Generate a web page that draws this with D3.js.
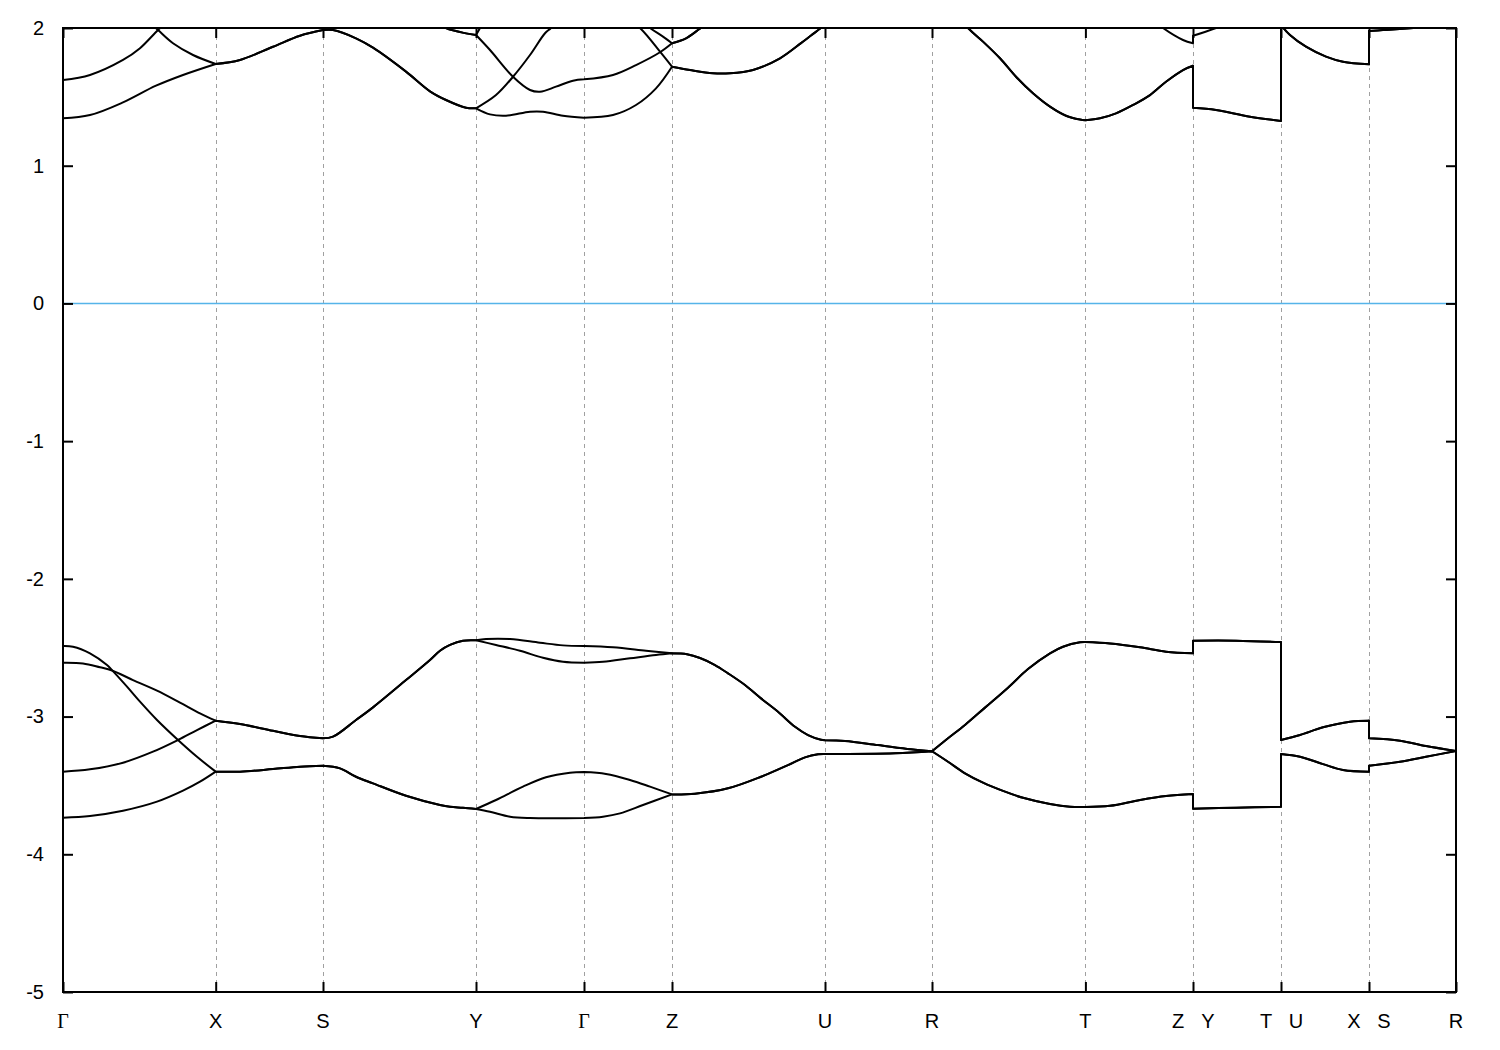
<!DOCTYPE html>
<html>
<head>
<meta charset="utf-8">
<script src="https://cdn.jsdelivr.net/npm/d3@7"></script>
<style>body{margin:0;background:#fff}</style>
</head>
<body>
<svg id="chart" width="1500" height="1050"></svg>
<script>
// ---- k-path (high-symmetry points) ----
const kTicks  = [0, 152.7, 260, 413, 521, 609, 762, 869, 1022.4, 1130, 1218, 1306, 1393];
const kLabels = ["Γ", "X", "S", "Y", "Γ", "Z", "U", "R", "T", "Z|Y", "T|U", "X|S", "R"];
const eTicks  = [-5, -4, -3, -2, -1, 0, 1, 2];
const eRange  = [-5, 2];
const fermiLevel = 0;

// ---- valence bands: pieces [k, E] ----
const vbGX1 = [[0,-2.609],[20,-2.614],[37,-2.642],[49,-2.665],[70,-2.735],[94,-2.812],[117,-2.899],[137,-2.977],[152.7,-3.030]];
const vbGX2 = [[0,-3.400],[27,-3.383],[60,-3.335],[90,-3.255],[115,-3.170],[134,-3.098],[152.7,-3.030]];
const vbGX3 = [[0,-2.488],[10,-2.493],[27,-2.541],[44,-2.626],[49,-2.663],[64,-2.783],[77,-2.892],[94,-3.025],[115,-3.170],[134,-3.292],[152.7,-3.400]];
const vbGX4 = [[0,-3.734],[27,-3.722],[60,-3.684],[94,-3.618],[120,-3.538],[137,-3.473],[152.7,-3.400]];
const vbUpperXY = [[177,-3.054],[210,-3.103],[237,-3.141],[260,-3.158],[270,-3.146],[293,-3.025],[310,-2.933],[343,-2.735],[367,-2.589],[377,-2.522],[387,-2.480],[400,-2.449],[413,-2.446]];
const vbLowerXY = [[177,-3.400],[210,-3.381],[237,-3.364],[260,-3.357],[277,-3.376],[293,-3.437],[310,-3.485],[343,-3.575],[377,-3.642],[387,-3.655],[400,-3.662],[413,-3.671]];
const vbYZ1 = [[423,-2.437],[447,-2.437],[477,-2.464],[500,-2.483],[521,-2.488],[550,-2.497],[583,-2.522],[609,-2.541]];
const vbYZ2 = [[433,-2.480],[457,-2.522],[480,-2.573],[500,-2.602],[521,-2.609],[540,-2.602],[567,-2.577],[593,-2.553],[609,-2.541]];
const vbYZ3 = [[433,-3.606],[460,-3.509],[483,-3.441],[507,-3.408],[521,-3.403],[543,-3.417],[567,-3.461],[587,-3.509],[609,-3.565]];
const vbYZ4 = [[427,-3.691],[447,-3.727],[467,-3.737],[521,-3.737],[540,-3.727],[557,-3.703],[580,-3.642],[609,-3.565]];
const vbUpperZ = [[624,-2.548],[637,-2.575],[652,-2.626],[665,-2.686],[682,-2.771],[698,-2.868],[715,-2.965],[732,-3.074],[745,-3.134],[758,-3.168],[762,-3.172],
  [782,-3.177],[815,-3.207],[848,-3.238],[869,-3.252],
  [885,-3.158],[902,-3.061],[922,-2.935],[945,-2.790],[965,-2.655],[987,-2.541],[1000,-2.493],[1017,-2.461],[1022.4,-2.459],
  [1047,-2.469],[1077,-2.497],[1103,-2.529],[1130,-2.541],
  [1130,-2.449],[1173,-2.449],[1218,-2.459],
  [1218,-3.170],[1237,-3.134],[1260,-3.078],[1287,-3.037],[1306,-3.030],
  [1306,-3.158],[1337,-3.175],[1363,-3.214],[1393,-3.250]];
const vbLowerZ = [[632,-3.560],[665,-3.521],[698,-3.437],[725,-3.352],[742,-3.296],[755,-3.274],[762,-3.272],
  [832,-3.267],[869,-3.252],
  [885,-3.328],[902,-3.412],[920,-3.480],[940,-3.540],[960,-3.590],[987,-3.635],[1007,-3.655],[1022.4,-3.657],
  [1047,-3.648],[1077,-3.606],[1103,-3.577],[1130,-3.562],
  [1130,-3.669],[1173,-3.662],[1218,-3.655],
  [1218,-3.272],[1237,-3.292],[1260,-3.345],[1280,-3.388],[1306,-3.400],
  [1306,-3.357],[1337,-3.328],[1363,-3.292],[1393,-3.250]];

// ---- conduction bands: pieces [k, E] ----
const cbGX1 = [[0,1.344],[27,1.368],[60,1.460],[93,1.581],[120,1.659],[152.7,1.739]];
const cbGX2 = [[0,1.622],[27,1.659],[60,1.768],[77,1.853],[95,1.985],[105,2.05],[152.7,2.30]];
const cbGX3 = [[0,2.45],[50,2.20],[85,2.05],[95,1.985],[110,1.889],[130,1.804],[152.7,1.739]];
const cbXY = [[177,1.768],[210,1.864],[237,1.944],[260,1.985],[270,1.985],[293,1.925],[310,1.857],[343,1.683],[367,1.540],[383,1.477],[403,1.421],[413,1.417]];
const cbYtop = [[370,2.06],[383,2.0],[403,1.961],[413,1.949]];
const cbYZ1 = [[427,1.373],[443,1.363],[467,1.392],[480,1.392],[500,1.363],[521,1.349],[550,1.368],[573,1.441],[593,1.562],[609,1.719]];
const cbYZ2 = [[427,1.840],[450,1.646],[467,1.550],[477,1.537],[493,1.574],[510,1.617],[521,1.627],[550,1.659],[573,1.731],[597,1.824],[609,1.889]];
const cbYZ3 = [[433,1.513],[450,1.646],[467,1.804],[482,1.962],[488,2.0],[500,2.1],[521,2.2],[550,2.15],[577,2.0],[597,1.828],[609,1.719]];
const cbZup = [[623,1.925],[638,2.0],[660,2.1]];
const cbZend = [[627,1.695],[650,1.671],[667,1.671],[690,1.695],[717,1.780],[738,1.890],[748,1.945],[758,2.0],[762,2.02],
  [815,2.2],[869,2.3],
  [905,2.0],[920,1.901],[937,1.780],[953,1.646],[970,1.526],[987,1.429],[1003,1.363],[1017,1.335],[1022.4,1.330],
  [1037,1.344],[1053,1.380],[1070,1.441],[1087,1.513],[1103,1.610],[1120,1.695],[1130,1.726],
  [1130,1.421],[1153,1.405],[1187,1.356],[1218,1.325],
  [1218,2.02],[1227,1.949],[1243,1.864],[1263,1.792],[1280,1.755],[1306,1.736],
  [1306,1.978],[1320,1.985],[1340,1.995],[1393,2.02]];
const cb2Tail = [[762,2.3],[869,2.5],[1022.4,2.4],[1080,2.12],[1100,2.0],[1120,1.913],[1130,1.889],
  [1130,1.944],[1153,2.0],[1218,2.2],[1306,2.3],[1393,2.3]];
const cb4Head = [[0,2.6],[152.7,2.5],[260,2.6]];
const cb4Mid = [[417,2.0],[425,2.12],[460,2.3],[521,2.4],[570,2.1],[587,2.0],[600,1.937],[609,1.889]];
const cb4Tail = [[762,2.4],[869,2.6],[1022.4,2.7],[1130,2.5],[1218,2.6],[1306,2.6],[1393,2.6]];

const bands = [
  [...vbGX1, ...vbUpperXY, ...vbYZ1, ...vbUpperZ],
  [...vbGX2, ...vbUpperXY, ...vbYZ2, ...vbUpperZ],
  [...vbGX3, ...vbLowerXY, ...vbYZ3, ...vbLowerZ],
  [...vbGX4, ...vbLowerXY, ...vbYZ4, ...vbLowerZ],
  [...cbGX1, ...cbXY, ...cbYZ1, ...cbZend],
  [...cbGX3, ...cbXY, ...cbYZ3, ...cbZend],
  [...cbGX2, [260,2.4],[340,2.3], ...cbYtop, ...cbYZ2, ...cbZup, ...cb2Tail],
  [...cb4Head, ...cbYtop, ...cb4Mid, ...cbZup, ...cb4Tail]
];

// ---- drawing ----
const W = 1500, H = 1050;
const M = {left: 63, right: 1456, top: 28, bottom: 992};
const svg = d3.select("#chart");
svg.append("rect").attr("width", W).attr("height", H).attr("fill", "#fff");

const x = d3.scaleLinear().domain([kTicks[0], kTicks[kTicks.length - 1]]).range([M.left, M.right]);
const y = d3.scaleLinear().domain(eRange).range([M.bottom, M.top]);

svg.append("defs").append("clipPath").attr("id", "plotclip")
  .append("rect").attr("x", M.left).attr("y", M.top)
  .attr("width", M.right - M.left).attr("height", M.bottom - M.top);

// dashed vertical grid at high-symmetry points
svg.append("g").selectAll("line").data(kTicks.slice(1, -1)).join("line")
  .attr("x1", d => Math.round(x(d)) + 0.5).attr("x2", d => Math.round(x(d)) + 0.5)
  .attr("y1", M.top).attr("y2", M.bottom)
  .attr("stroke", "#a0a0a0").attr("stroke-width", 1).attr("stroke-dasharray", "4,4");

// Fermi level
svg.append("line")
  .attr("x1", M.left).attr("x2", M.right)
  .attr("y1", y(fermiLevel)).attr("y2", y(fermiLevel))
  .attr("stroke", "#56b4e9").attr("stroke-width", 1.5);

// bands
const line = d3.line().x(d => x(d[0])).y(d => y(d[1])).curve(d3.curveCatmullRom.alpha(0.5));
const isTick = k => kTicks.some(t => Math.abs(t - k) < 1e-6);
function bandPath(pts) {
  const segs = [];
  let cur = [pts[0]];
  for (let i = 1; i < pts.length; i++) {
    const p = pts[i], prev = pts[i - 1];
    if (Math.abs(p[0] - prev[0]) < 1e-9) { segs.push(cur); cur = [p]; }
    else {
      cur.push(p);
      if (isTick(p[0]) && i < pts.length - 1) { segs.push(cur); cur = [p]; }
    }
  }
  segs.push(cur);
  let d = "";
  segs.forEach((s, i) => {
    let sd;
    if (s.length === 1) sd = "M" + x(s[0][0]) + "," + y(s[0][1]);
    else sd = line(s);
    if (i > 0) sd = "L" + sd.slice(1);
    d += sd;
  });
  return d;
}
svg.append("g").attr("clip-path", "url(#plotclip)")
  .selectAll("path").data(bands).join("path")
  .attr("d", bandPath)
  .attr("fill", "none").attr("stroke", "#000").attr("stroke-width", 2)
  .attr("stroke-linejoin", "round");

// axes (inward ticks)
const fontSans = "'Liberation Sans', Arial, Helvetica, sans-serif";
function styleAxis(g) {
  g.select(".domain").remove();
  g.selectAll(".tick line").attr("stroke", "#000").attr("stroke-width", 2);
  g.attr("font-size", 20).attr("font-family", fontSans);
  g.selectAll(".tick text").attr("fill", "#000");
}
svg.append("g").attr("transform", `translate(${M.left},0)`)
  .call(d3.axisLeft(y).tickValues(eTicks).tickSize(-10).tickPadding(19).tickFormat(d => String(d)))
  .call(styleAxis);
svg.append("g").attr("transform", `translate(${M.right},0)`)
  .call(d3.axisRight(y).tickValues(eTicks).tickSize(-10).tickFormat(""))
  .call(styleAxis);
svg.append("g").attr("transform", `translate(0,${M.top})`)
  .call(d3.axisTop(x).tickValues(kTicks).tickSize(-10).tickFormat(""))
  .call(styleAxis);
svg.append("g").attr("transform", `translate(0,${M.bottom})`)
  .call(d3.axisBottom(x).tickValues(kTicks).tickSize(-10).tickFormat(""))
  .call(styleAxis);

// frame
svg.append("rect").attr("x", M.left).attr("y", M.top)
  .attr("width", M.right - M.left).attr("height", M.bottom - M.top)
  .attr("fill", "none").attr("stroke", "#000").attr("stroke-width", 2);

// k-point labels
const labelItems = [];
kTicks.forEach((k, i) => {
  const parts = kLabels[i].split("|");
  if (parts.length === 2) {
    labelItems.push({text: parts[0], px: x(k) - 15});
    labelItems.push({text: parts[1], px: x(k) + 15});
  } else {
    labelItems.push({text: parts[0], px: x(k)});
  }
});
svg.append("g").selectAll("text").data(labelItems).join("text")
  .attr("x", d => d.px).attr("y", 1028)
  .attr("text-anchor", "middle")
  .attr("font-size", 20)
  .attr("font-family", d => d.text === "Γ" ? "'Liberation Serif', 'DejaVu Serif', serif" : fontSans)
  .attr("fill", "#000")
  .text(d => d.text);
</script>
</body>
</html>
